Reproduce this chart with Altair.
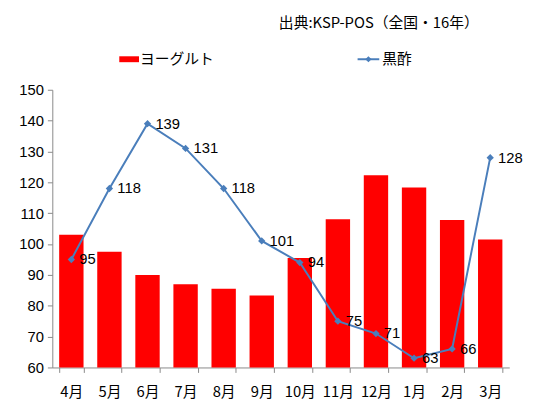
import altair as alt
import pandas as pd

months = ["4月", "5月", "6月", "7月", "8月", "9月", "10月", "11月", "12月", "1月", "2月", "3月"]
yogurt = [103, 97.5, 90, 87, 85.5, 83.3, 95.5, 108, 122.3, 118.3, 107.8, 101.5]
kurozu = [95, 118, 139, 131, 118, 101, 94, 75, 71, 63, 66, 128]
yticks = [60, 70, 80, 90, 100, 110, 120, 130, 140, 150]

df = pd.DataFrame({"month": months, "yogurt": yogurt, "kurozu": kurozu})

FONT = "Noto Sans CJK JP"
NUMFONT = "Liberation Sans"
BLUE = "#4A7EBB"

x = alt.X("month:N", sort=months, title=None,
          scale=alt.Scale(paddingInner=0.36, paddingOuter=0.18),
          axis=alt.Axis(labelAngle=0, labelFontSize=15, labelFont=FONT, labelColor="#000",
                        domainColor="#888", tickColor="#888", tickBand="extent",
                        tickSize=5, labelPadding=12, labelOverlap=False))
yscale = alt.Scale(domain=[60, 150], nice=False, zero=False)
yaxis = alt.Axis(values=yticks, grid=False, labelFontSize=15,
                 labelFont=NUMFONT, labelColor="#000", domainColor="#888",
                 tickColor="#888", tickSize=5, labelPadding=4, title=None,
                 labelOverlap=False, tickCount=10)

base = alt.Chart(df)
bars = base.mark_bar(color="#FF0000").encode(
    x=x, y=alt.Y("yogurt:Q", scale=yscale, axis=yaxis), y2=alt.datum(60))
line = base.mark_line(color=BLUE, strokeWidth=2).encode(
    x=x, y=alt.Y("kurozu:Q", scale=yscale, axis=yaxis))
pts = base.mark_point(shape="diamond", filled=True, color=BLUE, size=55, opacity=1).encode(
    x=x, y=alt.Y("kurozu:Q", scale=yscale, axis=yaxis))
labels = base.mark_text(align="left", baseline="middle", dx=8, fontSize=15,
                        font=NUMFONT, color="#000").encode(
    x=x, y=alt.Y("kurozu:Q", scale=yscale, axis=yaxis), text="kurozu:Q")

# legend and source note
leg = pd.DataFrame({"a": [0]})
leg_bar = alt.Chart(leg).mark_rect(color="#FF0000").encode(
    x=alt.value(68), x2=alt.value(88), y=alt.value(-34), y2=alt.value(-28))
leg_bar_t = alt.Chart(leg).mark_text(align="left", baseline="middle", fontSize=15,
                                     font=FONT, color="#000", text="ヨーグルト").encode(
    x=alt.value(89), y=alt.value(-31))
leg_line = alt.Chart(leg).mark_rule(color=BLUE, strokeWidth=2).encode(
    x=alt.value(310), x2=alt.value(332), y=alt.value(-31))
leg_pt = alt.Chart(leg).mark_point(shape="diamond", filled=True, color=BLUE, size=40,
                                   opacity=1).encode(x=alt.value(321), y=alt.value(-31))
leg_line_t = alt.Chart(leg).mark_text(align="left", baseline="middle", fontSize=15,
                                      font=FONT, color="#000", text="黒酢").encode(
    x=alt.value(335), y=alt.value(-31))
src = alt.Chart(leg).mark_text(align="right", baseline="middle", fontSize=15,
                               font=FONT, color="#000",
                               text="出典:KSP-POS（全国・16年）").encode(
    x=alt.value(433), y=alt.value(-68))

chart = alt.layer(bars, line, pts, labels, leg_bar, leg_bar_t, leg_line, leg_pt,
                  leg_line_t, src).properties(
    width=464, height=282, background="white",
    autosize=alt.AutoSizeParams(type="none"),
    padding={"left": 45, "top": 80, "right": 16, "bottom": 30},
).configure_view(strokeWidth=0, stroke="transparent")

chart.save("out.html", embed_options={"renderer": "svg", "actions": False})
